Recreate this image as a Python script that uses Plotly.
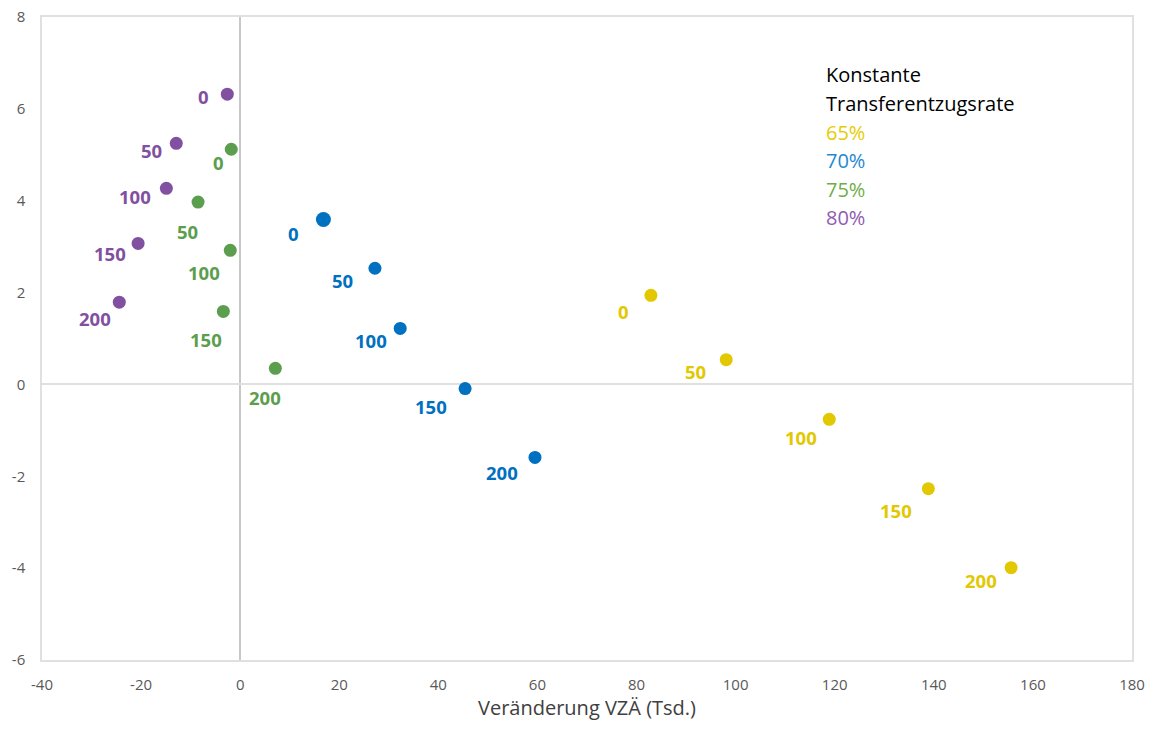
import plotly.graph_objects as go

labels = ["0", "50", "100", "150", "200"]

x_65 = [82.9, 98.1, 118.9, 138.9, 155.6]
y_65 = [1.94, 0.54, -0.76, -2.27, -3.99]

x_70 = [16.8, 27.2, 32.3, 45.4, 59.5]
y_70 = [3.59, 2.53, 1.22, -0.09, -1.59]

x_75 = [-1.8, -8.5, -2.0, -3.4, 7.1]
y_75 = [5.12, 3.97, 2.92, 1.59, 0.35]

x_80 = [-2.6, -12.9, -14.9, -20.6, -24.4]
y_80 = [6.32, 5.25, 4.27, 3.07, 1.79]

x_tickvals = [-40, -20, 0, 20, 40, 60, 80, 100, 120, 140, 160, 180]
x_ticktext = ["-40", "-20", "0", "20", "40", "60", "80", "100", "120", "140", "160", "180"]
y_tickvals = [-6, -4, -2, 0, 2, 4, 6, 8]
y_ticktext = ["-6", "-4", "-2", "0", "2", "4", "6", "8"]

series_names = ["65%", "70%", "75%", "80%"]
marker_colors = ["#E2C800", "#0070C0", "#5B9E4D", "#8250A0"]
legend_colors = ["#E6CC00", "#1E88D0", "#70AD47", "#8E5CB0"]

# label offsets in pixels (dx, dy downward)
off_65 = [(-27, 16), (-31, 12), (-28, 18), (-32, 22), (-30, 13)]
off_70 = [(-30, 14), (-32, 12), (-29, 12), (-34, 18), (-33, 15)]
off_75 = [(-13, 13), (-11, 29), (-26, 22), (-17, 28), (-10, 29)]
off_80 = [(-24, 2), (-25, 7), (-31, 8), (-28, 10), (-24, 16)]

series = [(x_65, y_65, off_65), (x_70, y_70, off_70), (x_75, y_75, off_75), (x_80, y_80, off_80)]

FONT = "Open Sans"
fig = go.Figure()
annotations = []
for i, (xs, ys, offs) in enumerate(series):
    sizes = [13] * len(xs)
    if i == 1:
        sizes[0] = 15
    fig.add_trace(go.Scatter(
        x=xs, y=ys, mode="markers", name=series_names[i],
        marker=dict(color=marker_colors[i], size=sizes, opacity=1, line=dict(width=0)),
        showlegend=False,
    ))
    for xv, yv, lab, (dx, dy) in zip(xs, ys, labels, offs):
        annotations.append(dict(
            x=xv, y=yv, xref="x", yref="y", text="<b>%s</b>" % lab,
            showarrow=False, xshift=dx, yshift=-dy,
            font=dict(family=FONT, size=18.5, color=marker_colors[i]),
        ))

L, R, T, B = 42, 20, 17, 71
W, H = 1152, 731
pw, ph = W - L - R, H - T - B

legend_lines = ["Konstante", "Transferentzugsrate"] + series_names
legend_cols = ["#000000", "#000000"] + legend_colors
for k, (t, c) in enumerate(zip(legend_lines, legend_cols)):
    px, py = 824, 75 + k * 28.5
    annotations.append(dict(
        x=(px - L) / pw, y=1 - (py - T) / ph, xref="paper", yref="paper", text=t,
        showarrow=False, xanchor="left", yanchor="middle",
        font=dict(family=FONT, size=20, color=c),
    ))

fig.update_layout(
    width=W, height=H,
    margin=dict(l=L, r=R, t=T, b=B),
    plot_bgcolor="white", paper_bgcolor="white",
    annotations=annotations,
    font=dict(family=FONT, color="#595959"),
    xaxis=dict(
        range=[-40, 180], tickmode="array", tickvals=x_tickvals, ticktext=x_ticktext,
        showgrid=False, automargin=False, ticklabeloverflow="allow",
        zeroline=True, zerolinecolor="#C8C8C8", zerolinewidth=1.5,
        showline=True, mirror=True, linecolor="#E0E0E0", linewidth=1.5,
        ticks="", ticklabelstandoff=10,
        tickfont=dict(family=FONT, size=15, color="#595959"),
        title=dict(text="Veränderung VZÄ (Tsd.)", font=dict(family=FONT, size=20, color="#404040"), standoff=6),
    ),
    yaxis=dict(
        range=[-6, 8], tickmode="array", tickvals=y_tickvals, ticktext=y_ticktext,
        showgrid=False, automargin=False, ticklabeloverflow="allow",
        zeroline=True, zerolinecolor="#E0E0E0", zerolinewidth=1.5,
        showline=True, mirror=True, linecolor="#E0E0E0", linewidth=1.5,
        ticks="", ticklabelstandoff=12,
        tickfont=dict(family=FONT, size=15, color="#595959"),
    ),
)

fig.write_html("out.html", config={"displayModeBar": False},
               post_script="document.body.style.margin='0';")
